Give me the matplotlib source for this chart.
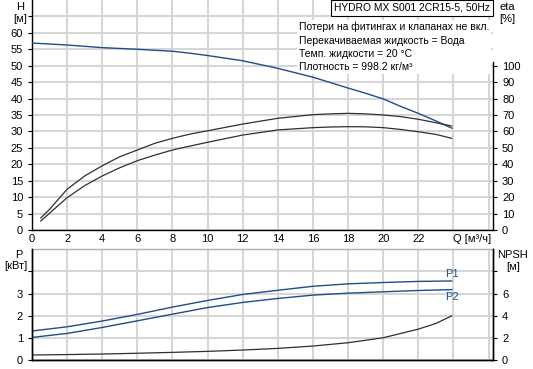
import matplotlib
matplotlib.use('Agg')
from matplotlib import pyplot as plt
import matplotlib.transforms as mtransforms

# --- data ---
q_h = [0, 2, 4, 6, 8, 9, 10, 12, 14, 16, 18, 19, 20, 21, 22, 23, 23.9]
head = [56.9, 56.3, 55.5, 55.0, 54.4, 53.8, 53.1, 51.5, 49.2, 46.5, 43.2,
        41.6, 39.9, 37.6, 35.5, 33.2, 31.0]

q_eta = [0.5, 1, 2, 3, 4, 5, 6, 7, 8, 9, 10, 12, 14, 16, 17, 18, 19, 20,
         21, 22, 23, 23.9]
eta_upper = [7.3, 12.6, 24.8, 32.9, 39.1, 44.6, 48.7, 52.8, 55.8, 58.4, 60.4,
             64.5, 68.0, 70.2, 70.7, 71.0, 70.7, 70.0, 69.0, 67.4, 65.3, 63.3]
eta_lower = [5.5, 10.2, 19.7, 27.0, 32.9, 37.9, 42.2, 45.6, 48.7, 51.1, 53.4,
             57.8, 60.9, 62.3, 62.7, 62.9, 62.8, 62.3, 61.2, 59.8, 58.2, 55.8]

q_p = [0, 2, 4, 6, 8, 10, 12, 14, 16, 18, 20, 22, 23, 23.9]
p1 = [1.31, 1.50, 1.76, 2.06, 2.39, 2.69, 2.96, 3.15, 3.33, 3.44, 3.50, 3.55, 3.56, 3.57]
p2 = [1.02, 1.20, 1.47, 1.77, 2.07, 2.37, 2.60, 2.78, 2.93, 3.02, 3.08, 3.14, 3.16, 3.18]
npsh = [0.45, 0.49, 0.54, 0.61, 0.69, 0.78, 0.90, 1.05, 1.26, 1.56, 2.01, 2.79, 3.30, 3.99]

x_ticks = list(range(0, 27, 2))
title_text = 'HYDRO MX S001 2CR15-5, 50Hz'
notes = ['Потери на фитингах и клапанах не вкл.',
         'Перекачиваемая жидкость = Вода',
         'Темп. жидкости = 20 °C',
         'Плотность = 998.2 кг/м³']

plt.rc('font', family='Liberation Sans', size=8)
plt.rc('axes', linewidth=1.0, edgecolor='black')
plt.rc('xtick.major', size=3, width=0.8)
plt.rc('ytick.major', size=3, width=0.8)

blue = '#1d4f8a'
dark = '#303030'
grid_c = '#d6d6d6'
W, H = 533, 369
fig = plt.figure(figsize=(5.33, 3.69), dpi=100)


def fx(px):
    return px / W


def fy(py):
    return 1 - py / H


# ---------------- top: head / efficiency ----------------
ax = fig.add_axes([fx(32), fy(230), 461 / W, 230 / H])
ax.set_xlim(0, 26.25)
ax.set_ylim(0, 70)
ax.set_xticks(x_ticks)
ax.set_xticklabels([str(v) if v <= 22 else '' for v in x_ticks])
ax.set_yticks(range(0, 70, 5))
ax.set_yticklabels([str(v) if v <= 60 else '' for v in range(0, 70, 5)])
ax.grid(True, color=grid_c, linewidth=1.5)
ax.set_axisbelow(True)
ax.tick_params(axis='x', length=0, pad=3)
ax.spines['top'].set_visible(False)
ax.spines['right'].set_visible(False)

ax.plot(q_h, head, color=blue, lw=1.0, zorder=5)

ax2 = ax.twinx()
ax2.set_ylim(0, 140)
ax2.set_yticks(range(0, 101, 10))
ax2.spines['top'].set_visible(False)
ax2.spines['left'].set_visible(False)
ax2.spines['bottom'].set_visible(False)
ax2.spines['right'].set_bounds(0, 102.5)
ax2.plot(q_eta, eta_upper, color=dark, lw=0.9)
ax2.plot(q_eta, eta_lower, color=dark, lw=0.9)

trans = mtransforms.blended_transform_factory(ax.transData, ax.transAxes)
ax.text(23.95, -0.018, 'Q [м³/ч]', transform=trans, ha='left', va='top')

fig.text(fx(20), fy(7), 'H', ha='center', va='center')
fig.text(fx(20), fy(19), '[м]', ha='center', va='center')
fig.text(fx(507), fy(7), 'eta', ha='center', va='center')
fig.text(fx(507), fy(19), '[%]', ha='center', va='center')

fig.text(fx(412), fy(8), title_text, ha='center', va='center', fontsize=7.4,
         bbox=dict(boxstyle='square,pad=0.3', fc='white', ec='black', lw=0.8))
ax.text((299 - 32) / 461, (230 - 22) / 230, '\n'.join(notes),
        transform=ax.transAxes, ha='left', va='top', fontsize=7.5,
        linespacing=1.4, zorder=4,
        bbox=dict(boxstyle='square,pad=0.15', fc='white', ec='none'))

# ---------------- bottom: power / NPSH ----------------
bx = fig.add_axes([fx(32), fy(360), 461 / W, 110.7 / H])
bx.set_xlim(0, 26.25)
bx.set_ylim(0, 5)
bx.set_xticks(x_ticks)
bx.set_xticklabels([])
bx.tick_params(axis='x', length=0)
bx.set_yticks([0, 1, 2, 3, 4])
bx.set_yticklabels(['0', '1', '2', '3', ''])
bx.grid(True, color=grid_c, linewidth=1.5)
bx.set_axisbelow(True)
bx.spines['top'].set_color('#b0b0b0')

bx.plot(q_p, p1, color=blue, lw=1.0)
bx.plot(q_p, p2, color=blue, lw=1.0)
bx.text(23.9, 3.57 + 0.1, 'P1', color=blue, ha='center', va='bottom')
bx.text(23.9, 3.18 - 0.1, 'P2', color=blue, ha='center', va='top')

bx2 = bx.twinx()
bx2.set_ylim(0, 10)
bx2.set_yticks([0, 2, 4, 6, 8])
bx2.set_yticklabels(['0', '2', '4', '6', ''])
bx2.spines['top'].set_visible(False)
bx2.plot(q_p, npsh, color=dark, lw=0.9)

fig.text(fx(19), fy(255.5), 'P', ha='center', va='center')
fig.text(fx(16), fy(266), '[кВт]', ha='center', va='center')
fig.text(fx(513), fy(255), 'NPSH', ha='center', va='center')
fig.text(fx(513), fy(267), '[м]', ha='center', va='center')

plt.savefig('out.png', dpi=100, facecolor='white')
